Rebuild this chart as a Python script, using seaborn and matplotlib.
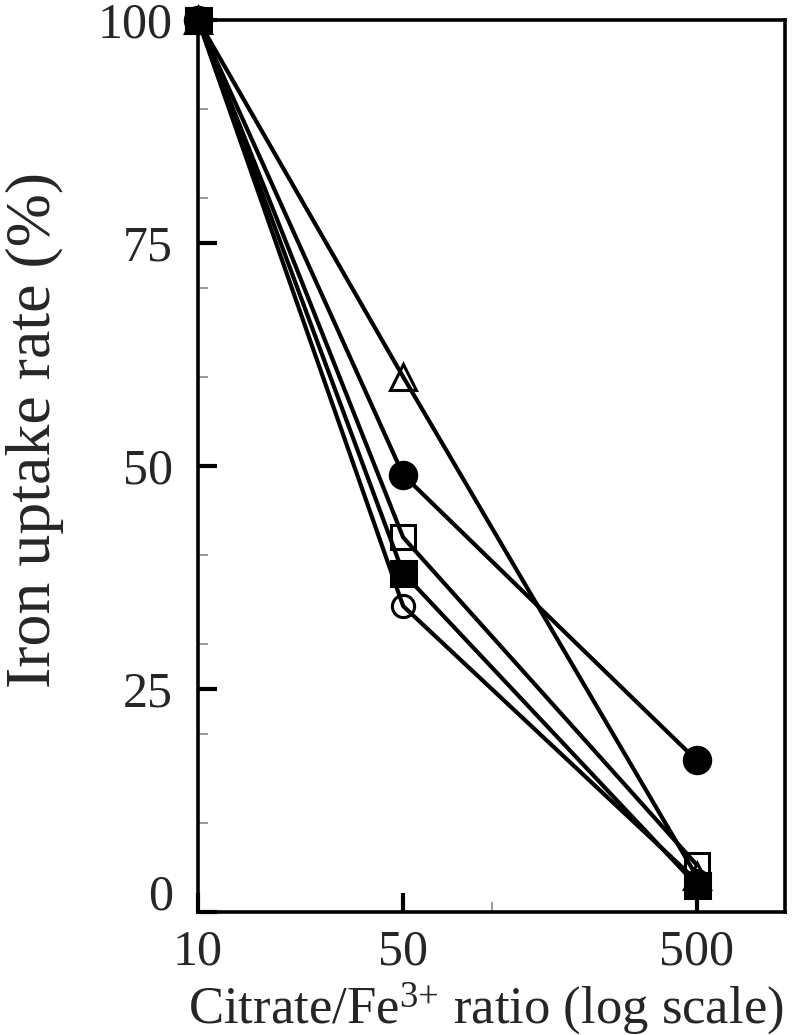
import numpy as np
import pandas as pd
import matplotlib
matplotlib.use("Agg")
import matplotlib.pyplot as plt
import matplotlib.transforms as mtransforms
from matplotlib.ticker import FixedLocator, NullFormatter
import seaborn as sns

# ---- data ----
ratios = [10, 50, 500]
open_triangle = [100, 60.0, 4.0]
filled_circle = [100, 49.0, 17.0]
open_square = [100, 42.0, 5.3]
open_circle = [100, 34.3, 3.5]
filled_square = [100, 38.0, 3.0]

x_ticks = [10, 50, 500]
x_tick_labels = ["10", "50", "500"]
y_ticks = [0, 25, 50, 75, 100]
y_tick_labels = ["0", "25", "50", "75", "100"]

sns.set_theme(style="white")
plt.rcParams["font.family"] = ["Liberation Serif", "DejaVu Serif"]
plt.rcParams["mathtext.fontset"] = "custom"
plt.rcParams["mathtext.rm"] = "Liberation Serif"
plt.rcParams["mathtext.it"] = "Liberation Serif"

fig = plt.figure(figsize=(7.97, 10.35), dpi=100)
ax = fig.add_axes([0.2484, 0.1188, 0.7366, 0.8619])

series = [
    (open_triangle, "^", "none", 19),
    (filled_circle, "o", "black", 19),
    (open_square, "s", "none", 17),
    (open_circle, "o", "none", 16),
    (filled_square, "s", "black", 18),
]
for vals, mk, fc, ms in series:
    df = pd.DataFrame({"ratio": ratios, "rate": vals})
    sns.lineplot(data=df, x="ratio", y="rate", ax=ax, color="black",
                 linewidth=3.0, marker=mk, markersize=ms,
                 markerfacecolor=fc, markeredgecolor="black",
                 markeredgewidth=2.2, clip_on=False, zorder=3)

ax.set_xscale("log")
ax.set_xlim(10, 1000)
ax.set_ylim(0, 100)

ax.xaxis.set_major_locator(FixedLocator(x_ticks))
ax.set_xticklabels(x_tick_labels)
ax.xaxis.set_minor_locator(FixedLocator([100]))
ax.xaxis.set_minor_formatter(NullFormatter())
ax.set_yticks(y_ticks)
ax.set_yticklabels(y_tick_labels)
ax.yaxis.set_minor_locator(FixedLocator([10, 20, 30, 40, 60, 70, 80, 90]))

ax.tick_params(axis="both", which="major", direction="in", length=14, width=3,
               color="black", labelsize=36, left=True, bottom=True)
ax.tick_params(axis="y", which="major", pad=18)
ax.tick_params(axis="x", which="major", pad=12)
ax.tick_params(axis="both", which="minor", direction="in", length=7, width=1.2,
               color="#888888", left=True, bottom=True)

for sp in ax.spines.values():
    sp.set_visible(True)
    sp.set_color("black")
    sp.set_linewidth(2.6)

ax.set_xlabel("Citrate/Fe$^{3{+}}$ ratio (log scale)", fontsize=38)
ax.xaxis.set_label_coords(0.49, -0.076)
ax.set_ylabel("Iron uptake rate (%)", fontsize=46)
ax.yaxis.set_label_coords(-0.278, 0.54)
ax.yaxis.label.set_va("center")

# shift the "0" label slightly upward as in the reference
for lbl in ax.get_yticklabels():
    if lbl.get_text() == "0":
        lbl.set_transform(lbl.get_transform() +
                          mtransforms.ScaledTranslation(0, 0.2, fig.dpi_scale_trans))

fig.savefig("out.png", dpi=100, facecolor="white")
